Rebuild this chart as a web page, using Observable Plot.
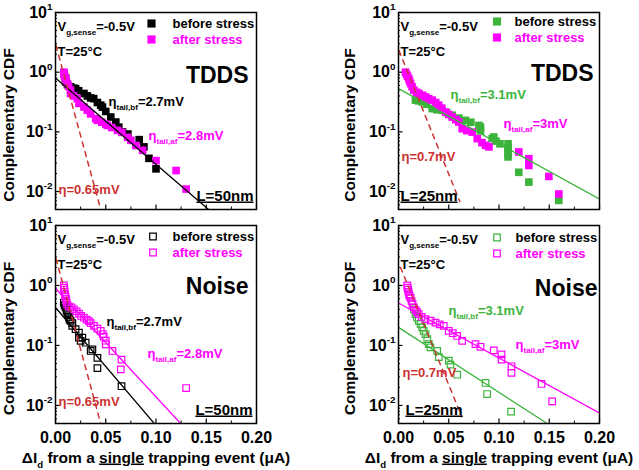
<!DOCTYPE html>
<html><head><meta charset="utf-8">
<script src="https://cdn.jsdelivr.net/npm/d3@7"></script>
<script src="https://cdn.jsdelivr.net/npm/@observablehq/plot@0.6"></script>
<style>
body{margin:0;background:#fff}
#root{position:relative;width:639px;height:470px;background:#fff;overflow:hidden}
#root svg{position:absolute;overflow:visible}
</style></head><body><div id="root"></div>
<script>
// ---------- data ----------
const xTicks = [0, 0.05, 0.10, 0.15, 0.20];
const xMinorTicks = [0.025, 0.075, 0.125, 0.175];
const yTicks = [0.01, 0.1, 1, 10];
const yMinorTicks = [0.005,0.006,0.007,0.008,0.009,0.02,0.03,0.04,0.05,0.06,0.07,0.08,0.09,0.2,0.3,0.4,0.5,0.6,0.7,0.8,0.9,2,3,4,5,6,7,8,9];

const tddsL50Before = [[0.0085,0.95],[0.010,0.80],[0.010,0.69],[0.012,0.62],[0.015,0.57],[0.018,0.54],[0.020,0.53],[0.023,0.49],[0.0283,0.44],[0.0317,0.40],[0.035,0.37],[0.038,0.36],[0.0417,0.31],[0.045,0.28],[0.0467,0.26],[0.050,0.22],[0.055,0.177],[0.060,0.146],[0.063,0.12],[0.0667,0.10],[0.072,0.092],[0.0833,0.074],[0.088,0.056],[0.093,0.036],[0.100,0.024]];
const tddsL50After = [[0.0083,1.0],[0.0085,0.93],[0.009,0.86],[0.010,0.78],[0.0105,0.72],[0.0117,0.645],[0.013,0.58],[0.015,0.50],[0.015,0.44],[0.018,0.40],[0.0217,0.36],[0.0233,0.30],[0.0283,0.261],[0.0317,0.23],[0.035,0.20],[0.040,0.167],[0.0417,0.156],[0.046,0.145],[0.050,0.134],[0.0517,0.128],[0.056,0.118],[0.0617,0.106],[0.066,0.098],[0.0717,0.081],[0.075,0.072],[0.080,0.059],[0.0867,0.049],[0.100,0.033],[0.120,0.0225],[0.130,0.011]];

const tddsL25Before = [[0.0169,0.34],[0.020,0.33],[0.0236,0.317],[0.028,0.29],[0.0335,0.245],[0.038,0.235],[0.0435,0.23],[0.048,0.21],[0.0534,0.19],[0.060,0.17],[0.0667,0.156],[0.072,0.145],[0.080,0.128],[0.0816,0.12],[0.0816,0.104],[0.0932,0.077],[0.0948,0.082],[0.097,0.07],[0.101,0.063],[0.109,0.063],[0.109,0.055],[0.109,0.049],[0.109,0.043],[0.109,0.038],[0.1197,0.021],[0.1297,0.0144],[0.1595,0.0071]];
const tddsL25After = [[0.007,1.0],[0.008,0.92],[0.009,0.85],[0.0103,0.78],[0.011,0.71],[0.012,0.645],[0.0135,0.57],[0.0153,0.50],[0.018,0.46],[0.0203,0.44],[0.024,0.41],[0.0269,0.385],[0.030,0.36],[0.0335,0.34],[0.037,0.31],[0.040,0.28],[0.043,0.25],[0.0468,0.215],[0.050,0.195],[0.0534,0.177],[0.057,0.16],[0.060,0.146],[0.0634,0.113],[0.068,0.105],[0.0733,0.099],[0.0783,0.077],[0.083,0.066],[0.0866,0.0594],[0.090,0.056],[0.1197,0.046],[0.1297,0.0355],[0.1297,0.0274],[0.1496,0.0179],[0.1595,0.0091]];

const noiseL50Before = [[0.0083,0.52],[0.009,0.47],[0.010,0.43],[0.011,0.39],[0.0117,0.355],[0.0125,0.32],[0.0133,0.293],[0.014,0.27],[0.015,0.258],[0.0167,0.235],[0.0167,0.212],[0.020,0.187],[0.0233,0.164],[0.0233,0.135],[0.0267,0.135],[0.025,0.119],[0.030,0.111],[0.035,0.081],[0.0367,0.086],[0.0417,0.062],[0.0417,0.042],[0.0657,0.0209]];
const noiseL50After = [[0.0083,1.0],[0.0085,0.92],[0.0088,0.85],[0.009,0.78],[0.0095,0.71],[0.010,0.65],[0.0105,0.59],[0.011,0.53],[0.0117,0.48],[0.0133,0.45],[0.016,0.43],[0.0183,0.40],[0.021,0.37],[0.0233,0.34],[0.0255,0.31],[0.0283,0.29],[0.031,0.27],[0.0333,0.255],[0.035,0.235],[0.0383,0.212],[0.0417,0.19],[0.045,0.175],[0.047,0.155],[0.048,0.14],[0.050,0.12],[0.050,0.104],[0.0567,0.081],[0.0657,0.058],[0.065,0.04],[0.130,0.0195]];

const noiseL25Before = [[0.0155,0.40],[0.0169,0.334],[0.0185,0.29],[0.0202,0.258],[0.022,0.23],[0.0236,0.20],[0.025,0.175],[0.0269,0.154],[0.0286,0.127],[0.0302,0.105],[0.0318,0.093],[0.0385,0.081],[0.0401,0.064],[0.050,0.056],[0.0517,0.048],[0.0584,0.0325],[0.0866,0.0237],[0.0882,0.0155],[0.112,0.0079]];
const noiseL25After = [[0.0087,1.0],[0.009,0.92],[0.0095,0.85],[0.010,0.78],[0.0105,0.71],[0.011,0.67],[0.012,0.62],[0.013,0.55],[0.014,0.49],[0.0153,0.43],[0.017,0.39],[0.0185,0.36],[0.0202,0.334],[0.023,0.30],[0.0269,0.275],[0.032,0.26],[0.0368,0.24],[0.041,0.225],[0.045,0.212],[0.050,0.175],[0.054,0.16],[0.0584,0.144],[0.0634,0.119],[0.0766,0.105],[0.0816,0.095],[0.0948,0.083],[0.1025,0.071],[0.1025,0.058],[0.1124,0.045],[0.1124,0.035],[0.1423,0.0228],[0.1529,0.0117]];

// fitted lines (end points)
const fitTddsL50Bf = [[0, 0.8], [0.1523, 0.005]];
const fitTddsL25Bf = [[0, 0.53], [0.2, 0.0075]];
const fitNoiseL50Bf = [[0, 0.43], [0.0983, 0.005]];
const fitNoiseL50Af = [[0, 0.9], [0.125, 0.0049]];
const fitNoiseL25Bf = [[0, 0.2], [0.148, 0.005]];
const fitNoiseL25Af = [[0, 0.51], [0.2, 0.0075]];
const dashL50 = [[0.0005, 2.8], [0.045, 0.005]];
const dashL25Tdds = [[0.0005, 2.3], [0.061, 0.0068]];
const dashL25Noise = [[0.002, 2.0], [0.063, 0.0065]];

// texts
const conditionLabels = ["V_{g,sense}=-0.5V", "T=25°C"];
const legendLabels = ["before stress", "after stress"];
const methodLabels = ["TDDS", "Noise"];
const sizeLabels = ["~{L=50nm}", "~{L=25nm}"];
const etaTailBf = ["η_{tail,bf}=2.7mV", "η_{tail,bf}=3.1mV"];
const etaTailAf = ["η_{tail,af}=2.8mV", "η_{tail,af}=3mV"];
const etaFast = ["η=0.65mV", "η=0.7mV"];
const yTitle = "Complementary CDF";
const xTitle = "ΔI_{d} from a ~{single} trapping event (μA)";

// ---------- styling ----------
const BLACK = "#000000", MAGENTA = "#ff00ff", GREEN = "#3cb43c", RED = "#cc3333";
const FONT = "'Liberation Sans', Arial, Helvetica, sans-serif";

const panels = [
  {left:0, top:0, width:320, height:215, mL:55, mR:64, mB:6, xLabels:false, filled:true,
   before:tddsL50Before, after:tddsL50After, bc:BLACK,
   fits:[[fitTddsL50Bf, BLACK]], dash:dashL50,
   method:methodLabels[0], size:sizeLabels[0], bf:etaTailBf[0], bfc:BLACK, af:etaTailAf[0], eta:etaFast[0],
   p:{leg:[96,11,117], method:[-8,70], bf:[53,93], af:[93,127], eta:[3,181], size:["top-right",-3,188], yt:-46}},
  {left:320, top:0, width:319, height:215, mL:78, mR:40, mB:6, xLabels:false, filled:true,
   before:tddsL25Before, after:tddsL25After, bc:GREEN,
   fits:[[fitTddsL25Bf, GREEN]], dash:dashL25Tdds,
   method:methodLabels[0], size:sizeLabels[1], bf:etaTailBf[1], bfc:GREEN, af:etaTailAf[1], eta:etaFast[1],
   p:{leg:[98.5,9,116], method:[-6,68], bf:[52,86], af:[105,115], eta:[3,148], size:["top-left",2,188], yt:-48}},
  {left:0, top:213, width:320, height:257, mL:55, mR:64, mB:47, xLabels:true, filled:false,
   before:noiseL50Before, after:noiseL50After, bc:BLACK,
   fits:[[fitNoiseL50Bf, BLACK],[fitNoiseL50Af, MAGENTA]], dash:dashL50,
   method:methodLabels[1], size:sizeLabels[0], bf:etaTailBf[0], bfc:BLACK, af:etaTailAf[0], eta:etaFast[0],
   p:{leg:[97.5,11,117], method:[-8,68], bf:[51,100], af:[92,132], eta:[3,180], size:["top-right",-4,189], yt:-46}},
  {left:320, top:213, width:319, height:257, mL:78, mR:40, mB:47, xLabels:true, filled:false,
   before:noiseL25Before, after:noiseL25After, bc:GREEN,
   fits:[[fitNoiseL25Bf, GREEN],[fitNoiseL25Af, MAGENTA]], dash:dashL25Noise,
   method:methodLabels[1], size:sizeLabels[1], bf:etaTailBf[1], bfc:GREEN, af:etaTailAf[1], eta:etaFast[1],
   p:{leg:[98.5,12,117], method:[-2,70], bf:[50,89], af:[117,123], eta:[4,151], size:["top-left",7,189], yt:-48}}
];

function label(s, o) {
  return Plot.text([s], {text: d => d, frameAnchor: o.fa || "top-left", textAnchor: o.ta || "start",
    lineAnchor: o.la || "bottom", dx: o.dx || 0, dy: o.dy || 0, fontSize: o.fs || 13,
    fontWeight: "bold", fill: o.c || BLACK, rotate: o.rot || 0});
}

function rich(svg) {
  svg.querySelectorAll("text").forEach(t => {
    const s = t.textContent;
    if (!/[_^~]\{/.test(s)) return;
    const fs = parseFloat(getComputedStyle(t).fontSize) || 13;
    while (t.firstChild) t.removeChild(t.firstChild);
    let cur = 0;
    const add = (txt, kind) => {
      if (!txt) return;
      const ts = document.createElementNS("http://www.w3.org/2000/svg", "tspan");
      let target = 0, size = null;
      if (kind === "_") { target = 0.33 * fs; size = 0.62 * fs; }
      else if (kind === "^") { target = -0.45 * fs; size = 0.62 * fs; }
      else if (kind === "~") { ts.style.textDecoration = "underline"; }
      if (size) ts.setAttribute("font-size", size);
      if (target !== cur) ts.setAttribute("dy", target - cur);
      cur = target;
      ts.textContent = txt;
      t.appendChild(ts);
    };
    const re = /([_^~])\{([^}]*)\}/g;
    let last = 0, m;
    while ((m = re.exec(s))) { add(s.slice(last, m.index), ""); add(m[2], m[1]); last = re.lastIndex; }
    add(s.slice(last), "");
  });
}

const root = document.getElementById("root");
for (const c of panels) {
  const sym = c.filled
    ? (data, col) => Plot.dot(data, {x: d => d[0], y: d => d[1], symbol: "square", r: 4.3, fill: col, stroke: "none"})
    : (data, col) => Plot.dot(data, {x: d => d[0], y: d => d[1], symbol: "square", r: 3.7, fill: "none", stroke: col, strokeWidth: 1.2});
  const legSym = c.filled
    ? (col, dy) => Plot.dot([0], {frameAnchor: "top-left", dx: c.p.leg[0], dy, symbol: "square", r: 4.6, fill: col, stroke: "none"})
    : (col, dy) => Plot.dot([0], {frameAnchor: "top-left", dx: c.p.leg[0], dy, symbol: "square", r: 3.7, fill: "none", stroke: col, strokeWidth: 1.2});
  const marks = [
    Plot.axisY({ticks: yMinorTicks, tickSize: -2, fill: "none", stroke: BLACK, strokeWidth: 1, label: null}),
    Plot.axisY({ticks: yTicks, tickSize: -4.5, fill: "none", stroke: BLACK, strokeWidth: 1.2, label: null}),
    Plot.axisY({ticks: yTicks, tickSize: 0, tickPadding: 3, tickFormat: d => `10^{${Math.round(Math.log10(d))}}`,
      fontSize: 16, fontWeight: "bold", fill: BLACK, label: null}),
    Plot.axisX({ticks: xMinorTicks, tickSize: -2.5, fill: "none", stroke: BLACK, strokeWidth: 1, label: null}),
    Plot.axisX({ticks: xTicks, tickSize: -4.5, fill: "none", stroke: BLACK, strokeWidth: 1.2, label: null}),
  ];
  if (c.xLabels) {
    marks.push(Plot.axisX({ticks: xTicks, tickSize: 0, tickPadding: 8, tickFormat: d => d.toFixed(2),
      fontSize: 16, fontWeight: "bold", fill: BLACK, label: null}));
    marks.push(label(xTitle, {fa: "bottom", ta: "middle", dy: 39, fs: 15.5}));
  }
  marks.push(
    sym(c.before, c.bc),
    sym(c.after, MAGENTA),
    ...c.fits.map(([pts, col]) => Plot.line(pts, {x: d => d[0], y: d => d[1], stroke: col, strokeWidth: 1.3, clip: true})),
    Plot.line(c.dash, {x: d => d[0], y: d => d[1], stroke: RED, strokeWidth: 1.5, strokeDasharray: "5,5", clip: true}),
    Plot.frame({stroke: BLACK, strokeWidth: 1.5}),
    label(conditionLabels[0], {dx: 2, dy: 18}),
    label(conditionLabels[1], {dx: 2, dy: 43}),
    legSym(c.bc, c.p.leg[1]),
    legSym(MAGENTA, c.p.leg[1] + 16),
    label(legendLabels[0], {dx: c.p.leg[2], dy: c.p.leg[1] + 4.7}),
    label(legendLabels[1], {dx: c.p.leg[2], dy: c.p.leg[1] + 20.7, c: MAGENTA}),
    label(c.method, {fa: "top-right", ta: "end", dx: c.p.method[0], dy: c.p.method[1], fs: 23}),
    label(c.bf, {dx: c.p.bf[0], dy: c.p.bf[1], c: c.bfc}),
    label(c.af, {dx: c.p.af[0], dy: c.p.af[1], c: MAGENTA}),
    label(c.eta, {dx: c.p.eta[0], dy: c.p.eta[1], c: RED}),
    label(c.size, {fa: c.p.size[0], ta: c.p.size[0] === "top-right" ? "end" : "start", dx: c.p.size[1], dy: c.p.size[2], fs: 15}),
    label(yTitle, {fa: "left", ta: "middle", la: "middle", dx: c.p.yt, dy: 14, fs: 15.5, rot: -90})
  );
  const svg = Plot.plot({
    width: c.width, height: c.height,
    marginLeft: c.mL, marginRight: c.mR, marginTop: 12, marginBottom: c.mB,
    x: {domain: [0, 0.2]},
    y: {type: "log", domain: [0.005, 10]},
    style: {fontFamily: FONT, fontWeight: "bold", background: "transparent", color: BLACK, overflow: "visible"},
    marks
  });
  svg.style.left = c.left + "px";
  svg.style.top = c.top + "px";
  root.appendChild(svg);
  rich(svg);
}
</script></body></html>
